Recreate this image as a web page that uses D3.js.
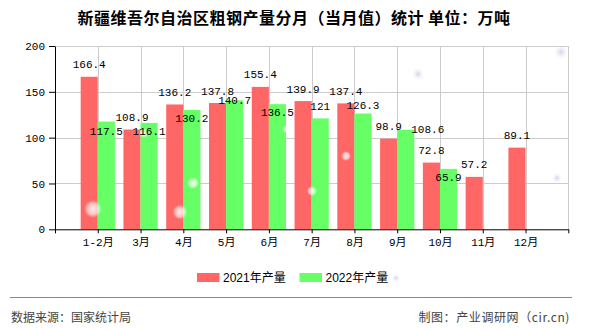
<!DOCTYPE html>
<html>
<head>
<meta charset="utf-8">
<script src="https://cdn.jsdelivr.net/npm/d3@7"></script>
<style>
  html, body { margin: 0; padding: 0; background: #fff; }
  svg { display: block; }
  .num { font-family: "Liberation Mono", "Noto Sans CJK SC", monospace; font-size: 11px; fill: #000; }
</style>
</head>
<body>
<svg id="chart" width="590" height="330"></svg>
<script>
// Monthly crude steel output, Xinjiang (10k tonnes)
const months = ["1-2月", "3月", "4月", "5月", "6月", "7月", "8月", "9月", "10月", "11月", "12月"];
const output2021 = [166.4, 108.9, 136.2, 137.8, 155.4, 139.9, 137.4, 98.9, 72.8, 57.2, 89.1];
const output2022 = [117.5, 116.1, 130.2, 140.7, 136.5, 121, 126.3, 108.6, 65.9, null, null];
const yTicks = [0, 50, 100, 150, 200];
const seriesNames = ["2021年产量", "2022年产量"];

const colors = ["#ff6666", "#66ff66"];
const svg = d3.select("#chart");

const plotLeft = 55, plotRight = 568.3, plotTop = 46, plotBottom = 229.3;
const x = d3.scaleLinear().domain([0, months.length + 1]).range([plotLeft, plotRight]);
const y = d3.scaleLinear().domain([0, 200]).range([plotBottom, plotTop]);
const step = x(1) - x(0);
const bw = step * 0.4;

// Title
svg.append("text")
  .attr("x", 294).attr("y", 24)
  .attr("text-anchor", "middle")
  .style("font-family", "'Noto Sans CJK SC', sans-serif")
  .style("font-size", "16px").style("font-weight", "bold").style("letter-spacing", "0.5px")
  .text("新疆维吾尔自治区粗钢产量分月（当月值）统计 单位：万吨");

// Grid
const grid = svg.append("g").attr("stroke", "#cccccc").attr("stroke-width", 1);
yTicks.filter(v => v > 0).forEach(v => {
  grid.append("line").attr("x1", plotLeft).attr("x2", plotRight)
    .attr("y1", Math.round(y(v)) + 0.5).attr("y2", Math.round(y(v)) + 0.5);
});
d3.range(1, months.length + 2).forEach(i => {
  grid.append("line").attr("x1", Math.round(x(i)) + 0.5).attr("x2", Math.round(x(i)) + 0.5)
    .attr("y1", plotTop).attr("y2", plotBottom);
});

// Bars
const bars = svg.append("g");
months.forEach((m, i) => {
  const cx = x(i + 1);
  if (output2021[i] != null) {
    bars.append("rect").attr("x", cx - bw).attr("y", y(output2021[i]))
      .attr("width", bw).attr("height", plotBottom - y(output2021[i])).attr("fill", colors[0]);
  }
  if (output2022[i] != null) {
    bars.append("rect").attr("x", cx).attr("y", y(output2022[i]))
      .attr("width", bw).attr("height", plotBottom - y(output2022[i])).attr("fill", colors[1]);
  }
});

// Soft light spots over the plot
const defs = svg.append("defs");
const gw = defs.append("radialGradient").attr("id", "spotW");
gw.append("stop").attr("offset", "0%").attr("stop-color", "#fff").attr("stop-opacity", 0.85);
gw.append("stop").attr("offset", "60%").attr("stop-color", "#fff").attr("stop-opacity", 0.6);
gw.append("stop").attr("offset", "100%").attr("stop-color", "#fff").attr("stop-opacity", 0);
const gb = defs.append("radialGradient").attr("id", "spotB");
gb.append("stop").attr("offset", "0%").attr("stop-color", "#c8c8e8").attr("stop-opacity", 0.8);
gb.append("stop").attr("offset", "100%").attr("stop-color", "#e8e8f6").attr("stop-opacity", 0);
const spots = svg.append("g");
[[93, 209, 9, "W"], [180, 212, 7.5, "W"], [193, 183, 6, "W"], [144, 133, 5, "W"],
 [286, 129, 4, "W"], [346, 156, 5, "W"], [312, 191, 5, "W"],
 [418, 74, 6, "B"], [561, 52, 7, "B"], [557, 178, 5, "B"], [396, 278, 4, "B"]]
  .forEach(([cx, cy, r, k]) => spots.append("circle").attr("cx", cx).attr("cy", cy).attr("r", r)
    .attr("fill", `url(#spot${k})`));

// Value labels
const greenDy = [13, 12, 12, 4, 12, -8, -5, 3, 12];
const greenDx = [0, 0, 0, 0, 0, 0, 0, 22, 0];
const labels = svg.append("g").attr("class", "num").attr("text-anchor", "middle");
months.forEach((m, i) => {
  const cx = x(i + 1);
  if (output2021[i] != null) {
    labels.append("text").attr("class", "num").attr("x", cx - bw / 2).attr("y", y(output2021[i]) - 8.5)
      .text(output2021[i]);
  }
  if (output2022[i] != null) {
    labels.append("text").attr("class", "num").attr("x", cx + bw / 2 + greenDx[i])
      .attr("y", y(output2022[i]) + greenDy[i]).text(output2022[i]);
  }
});

// Axes
const yAxis = svg.append("g").attr("transform", `translate(${plotLeft},0)`)
  .call(d3.axisLeft(y).tickValues(yTicks).tickSize(6).tickSizeOuter(0).tickPadding(4));
const xAxis = svg.append("g").attr("transform", `translate(0,${plotBottom})`)
  .call(d3.axisBottom(x).tickValues(d3.range(0, months.length + 2)).tickSize(4).tickSizeOuter(0)
    .tickPadding(5).tickFormat(i => months[i - 1] || ""));
[yAxis, xAxis].forEach(a => {
  a.selectAll("path, line").attr("stroke", "#000");
  a.selectAll("text").attr("class", "num").attr("fill", "#000")
    .style("font-family", "'Liberation Mono', 'Noto Sans CJK SC', monospace").style("font-size", "11px");
});

// Legend
const legend = svg.append("g").style("font-family", "'Liberation Sans', 'Noto Sans CJK SC', sans-serif")
  .style("font-size", "12px");
[[197, 0], [299.5, 1]].forEach(([lx, k]) => {
  legend.append("rect").attr("x", lx).attr("y", 273).attr("width", 22.5).attr("height", 9).attr("fill", colors[k]);
  legend.append("text").attr("x", lx + 26).attr("y", 282).attr("fill", "#000").text(seriesNames[k]);
});

// Footer
svg.append("line").attr("x1", 10).attr("x2", 572).attr("y1", 297.5).attr("y2", 297.5)
  .attr("stroke", "#888").attr("stroke-width", 1);
const foot = svg.append("g").style("font-family", "'Noto Sans CJK SC', sans-serif")
  .style("font-size", "12px").attr("fill", "#444");
foot.append("text").attr("x", 11).attr("y", 322).text("数据来源：国家统计局");
foot.append("text").attr("x", 570).attr("y", 322).attr("text-anchor", "end")
  .style("letter-spacing", "0.6px").text("制图：产业调研网（cir.cn)");
</script>
</body>
</html>
